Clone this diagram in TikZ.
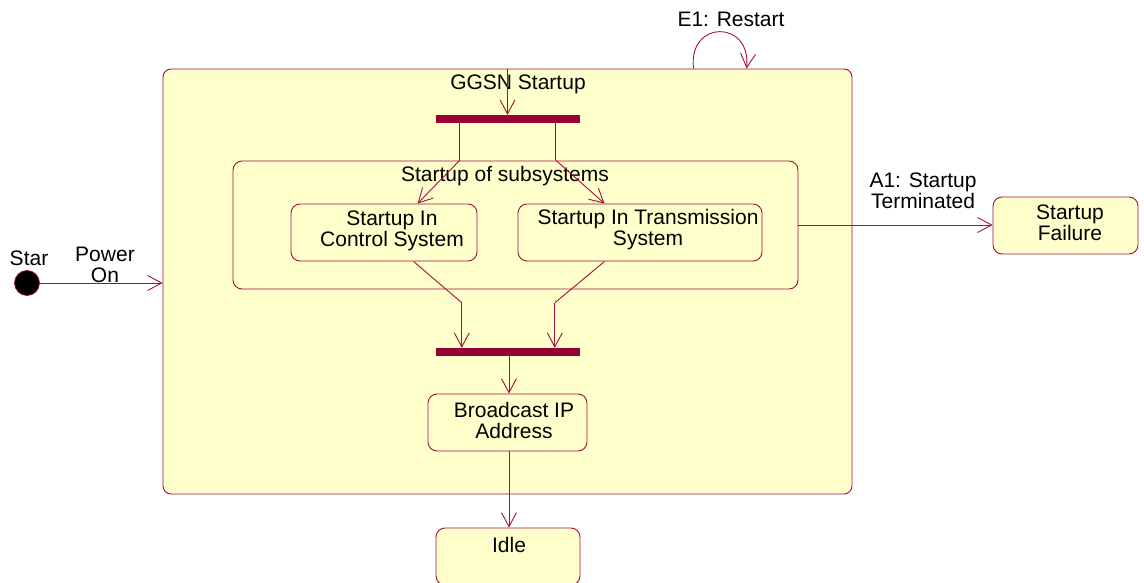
\documentclass[tikz,border=0pt]{standalone}
\usepackage{fontspec}
\setmainfont{Liberation Sans}
\usetikzlibrary{arrows.meta,calc}
\definecolor{umlline}{RGB}{163,16,64}
\definecolor{umlbar}{RGB}{153,0,51}
\definecolor{umlfill}{RGB}{255,255,204}
\tikzset{
  state/.style={draw=umlline, fill=umlfill, rounded corners=9pt, line width=0.9pt, inner sep=0pt},
  syncbar/.style={fill=umlbar, draw=none, minimum width=144pt, minimum height=8pt, inner sep=0pt},
  tr/.style={draw=umlline, line width=0.9pt, -{Straight Barb[length=14pt,width=15pt,line width=0.9pt]}},
  seg/.style={draw=umlline, line width=0.9pt},
  lbl/.style={font=\fontsize{21}{21}\selectfont, align=center, inner sep=0pt, text=black},
}
\begin{document}
\begin{tikzpicture}[x=1pt, y=-1pt]
\useasboundingbox (0,0) rectangle (1144,583);
\clip (0,0) rectangle (1144,583);

% composite state and its nested region
\node[state, rounded corners=8pt, minimum width=689pt, minimum height=425pt] (outer) at (507.5,281.5) {};
\node[lbl] (outerT) at (518,84) {GGSN Startup};
\node[syncbar] (bar1) at (508,119) {};
\node[state, minimum width=565pt, minimum height=128pt] (sub) at (515.5,225) {};
\node[lbl] (subT) at (505,176) {Startup of subsystems};
\node[state, minimum width=186pt, minimum height=57pt] (ctl) at (384,232.5) {};
\node[lbl] at (392,231) {Startup In\\Control System};
\node[state, minimum width=244pt, minimum height=57pt] (trn) at (640,232.5) {};
\node[lbl] at (648,229.5) {Startup In Transmission\\System};
\node[syncbar] (bar2) at (508,352) {};
\node[state, minimum width=159pt, minimum height=57pt] (bcast) at (507.5,422.5) {};
\node[lbl] at (514,420.5) {Broadcast IP\\Address};

% states outside the composite
\node[state, minimum width=144pt, minimum height=57pt] (idle) at (508,556.5) {};
\node[lbl] at (509,545) {Idle};
\node[state, minimum width=145pt, minimum height=57pt] (fail) at (1065.5,225.5) {};
\node[lbl] at (1070,222.5) {Startup\\Failure};

% initial pseudostate
\node[circle, fill=black, draw=umlline, line width=0.8pt, minimum size=25pt, inner sep=0pt] (init) at (27,283) {};
\node[lbl] at (29,258) {Star};

% transitions
\draw[tr] (init.east) -- (init.east -| outer.west);
\node[lbl] at (105,265) {Power\\On};

\draw[tr] (outer.north) -- (outer.north |- bar1.north);

\coordinate (loopA) at ($(outer.north west)+(531,0)$);
\coordinate (loopB) at ($(outer.north west)+(584,0)$);
\draw[tr] (loopA) .. controls ($(loopA)+(-6,-49)$) and ($(loopB)+(5,-49)$) .. (loopB);
\node[lbl] at (731,19) {E1: Restart};

% fork
\draw[seg] ($(bar1.south west)+(24,0)$) -- ($(bar1.south west)+(24,37)$) coordinate (fl);
\draw[tr] (fl) -- ($(ctl.north west)+(127,0)$);
\draw[seg] ($(bar1.south west)+(120,0)$) -- ($(bar1.south west)+(120,37)$) coordinate (fr);
\draw[tr] (fr) -- ($(trn.north west)+(87,0)$);

% join
\draw[seg] ($(ctl.south west)+(123,0)$) -- ($(bar2.north west)+(26,-45)$) coordinate (jl);
\draw[tr] (jl) -- ($(bar2.north west)+(26,0)$);
\draw[seg] ($(trn.south west)+(87,0)$) -- ($(bar2.north west)+(119,-45)$) coordinate (jr);
\draw[tr] (jr) -- ($(bar2.north west)+(119,0)$);

\draw[tr] ($(bar2.south)+(1,0)$) -- ($(bcast.north)+(1.5,0)$);
\draw[tr] ($(bcast.south)+(1.5,0)$) -- ($(idle.north)+(1,0)$);

\draw[tr] (sub.east) -- (sub.east -| fail.west);
\node[lbl] at (923,190.5) {A1: Startup\\Terminated};
\end{tikzpicture}
\end{document}
